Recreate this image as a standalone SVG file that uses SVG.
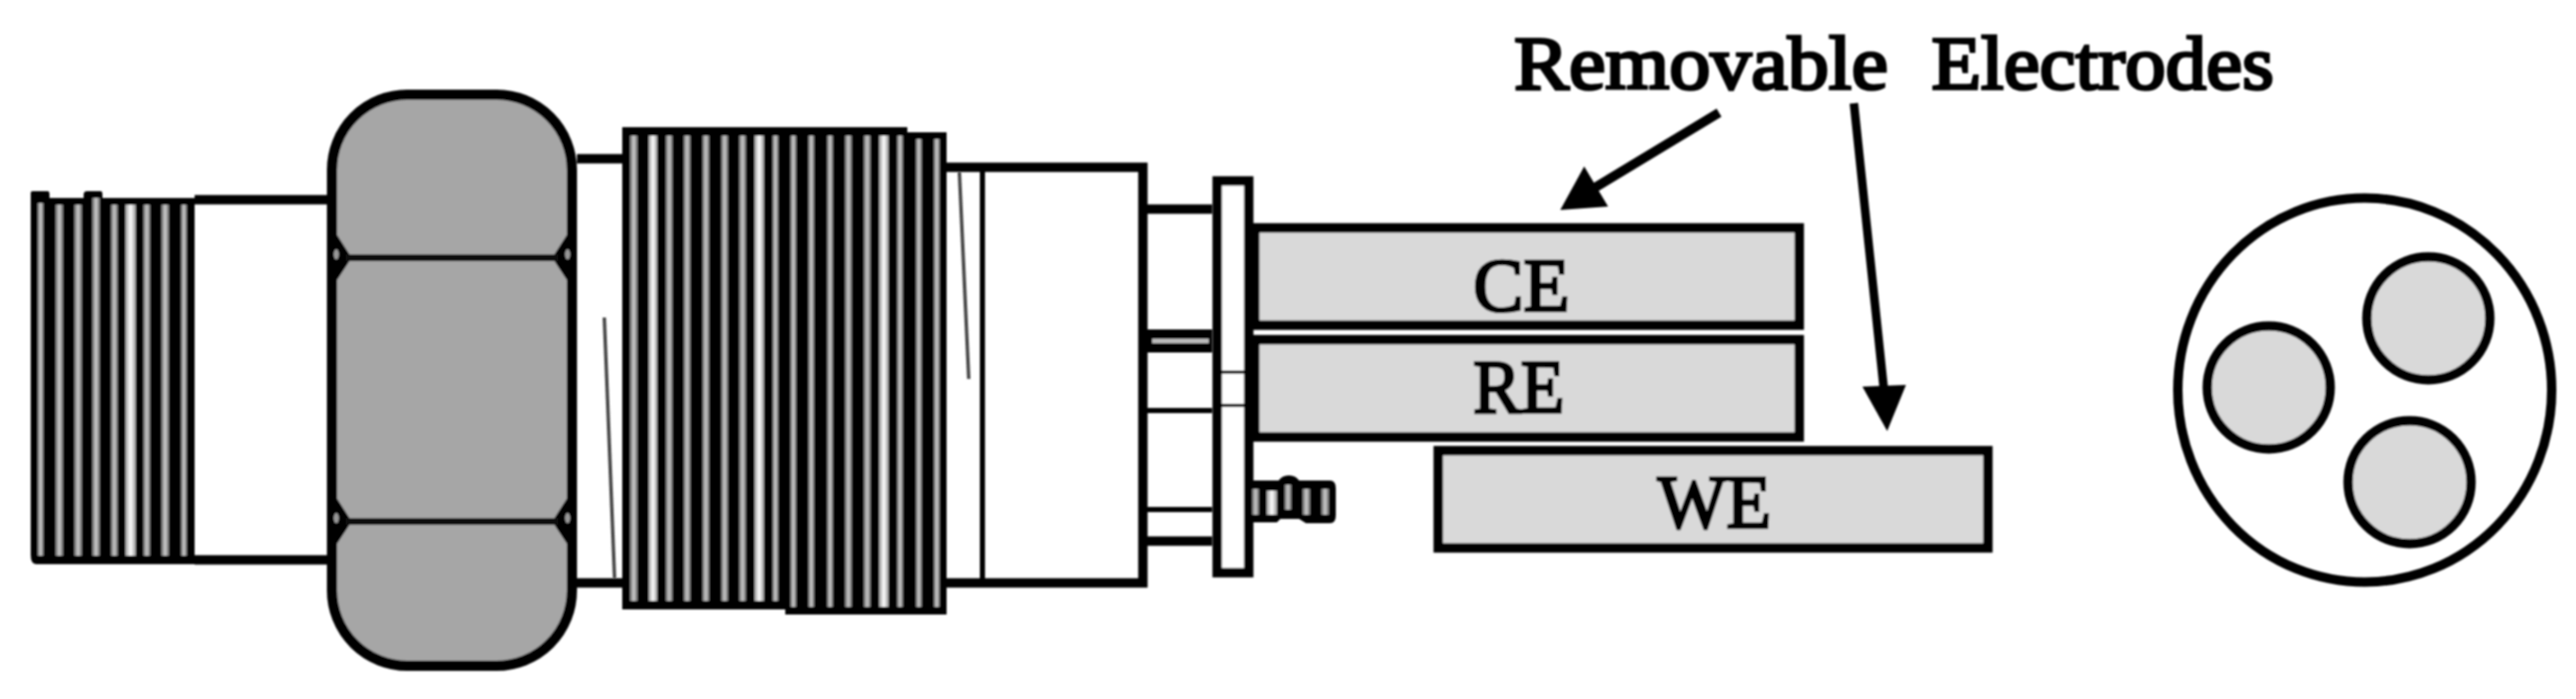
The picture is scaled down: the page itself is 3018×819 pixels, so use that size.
<svg xmlns="http://www.w3.org/2000/svg" width="3018" height="819" viewBox="0 0 3018 819">
<defs>
<linearGradient id="g1" x1="0" x2="1" y1="0" y2="0"><stop offset="0" stop-color="#666"/><stop offset="0.5" stop-color="#ccc"/><stop offset="1" stop-color="#666"/></linearGradient>
<linearGradient id="g2" x1="0" x2="1" y1="0" y2="0"><stop offset="0" stop-color="#999"/><stop offset="0.5" stop-color="#fff"/><stop offset="1" stop-color="#999"/></linearGradient>
<filter id="soft" filterUnits="userSpaceOnUse" x="0" y="0" width="3018" height="819"><feGaussianBlur stdDeviation="1.1"/></filter>
</defs>
<style>
.k{stroke:#000;stroke-width:11;fill:none}
.t{stroke:#000;stroke-width:6;fill:none}
.h{stroke:#444;stroke-width:4;fill:none}
.e{fill:#d9d9d9;stroke:#000;stroke-width:11}
.s1{fill:url(#g1)}
.s2{fill:url(#g2)}
.txt{font-family:"Liberation Serif",serif;font-size:89px;fill:#000;stroke:#000;stroke-width:3.5}
</style>
<rect width="3018" height="819" fill="#fff"/>
<g filter="url(#soft)">
<g id="left-thread">
<path class="k" d="M228 234H383M228 656H383"/>
<path d="M38 224H56Q58 224 58 228V232H98V228Q98 224 102 224H118Q120 224 120 228V232H228V661H42Q36 661 36 650V226Q36 224 38 224Z" fill="#000"/>
<rect class="s1" x="44" y="238" width="7" height="413"/>
<rect class="s1" x="65" y="240" width="9" height="411"/>
<rect class="s1" x="87" y="240" width="9" height="411"/>
<rect class="s1" x="108" y="232" width="9" height="419"/>
<rect class="s1" x="130" y="240" width="8" height="411"/>
<rect class="s2" x="147" y="240" width="12" height="411"/>
<rect class="s1" x="168" y="240" width="8" height="411"/>
<rect class="s1" x="189" y="240" width="9" height="411"/>
<rect class="s1" x="212" y="240" width="7" height="411"/>
</g>
<g id="neck-1">
<path class="k" d="M676 186H730M676 683H730"/>
<path class="h" d="M708 372L720 677"/>
</g>
<g id="nut">
<rect x="389" y="111" width="281" height="669" rx="88" fill="#a6a6a6" stroke="#000" stroke-width="12"/>
<path d="M389 266L412 302L389 337ZM670 266L647 302L670 337ZM389 575L412 611L389 646ZM670 575L647 611L670 646Z" fill="#000"/>
<path d="M405 302H654M405 611H654" stroke="#111" stroke-width="8" fill="none"/>
<ellipse cx="394" cy="298" rx="3" ry="6" fill="#999"/>
<ellipse cx="665" cy="298" rx="3" ry="6" fill="#999"/>
<ellipse cx="394" cy="607" rx="3" ry="6" fill="#999"/>
<ellipse cx="665" cy="607" rx="3" ry="6" fill="#999"/>
</g>
<g id="main-thread">
<path d="M729 149H1063V155H1109V720H920V714H729Z" fill="#000"/>
<rect class="s1" x="738" y="159" width="9" height="545"/>
<rect class="s2" x="760" y="159" width="10" height="545"/>
<rect class="s1" x="780" y="159" width="8" height="545"/>
<rect class="s1" x="801" y="159" width="8" height="545"/>
<rect class="s1" x="823" y="159" width="8" height="545"/>
<rect class="s1" x="845" y="159" width="8" height="545"/>
<rect class="s1" x="866" y="159" width="8" height="545"/>
<rect class="s2" x="884" y="159" width="11" height="545"/>
<rect class="s1" x="905" y="159" width="7" height="545"/>
<rect class="s1" x="926" y="159" width="7" height="552"/>
<rect class="s1" x="947" y="159" width="7" height="552"/>
<rect class="s1" x="969" y="159" width="7" height="552"/>
<rect class="s1" x="990" y="159" width="8" height="552"/>
<rect class="s1" x="1012" y="159" width="8" height="552"/>
<rect class="s2" x="1030" y="159" width="11" height="552"/>
<rect class="s1" x="1051" y="159" width="7" height="552"/>
<rect class="s1" x="1073" y="163" width="7" height="548"/>
<rect class="s1" x="1094" y="163" width="7" height="548"/>
</g>
<g id="rear-body">
<path class="k" d="M1109 196H1339V683H1109"/>
<path d="M1151 196V688" class="t"/>
<path class="h" d="M1124 202L1135 444"/>
</g>
<g id="rear-neck">
<path class="k" d="M1339 245H1420M1339 634H1420"/>
<rect x="1339" y="386" width="81" height="27" fill="#000"/>
<rect x="1350" y="397" width="66" height="5" fill="#bbb"/>
<path class="t" d="M1339 481H1420M1339 597H1420"/>
</g>
<g id="flange">
<rect x="1426" y="212" width="37" height="459" fill="#fff" stroke="#000" stroke-width="11"/>
<path d="M1430 436H1460M1430 475H1460" stroke="#000" stroke-width="4" fill="none"/>
</g>
<g id="screw">
<path d="M1460 563H1498Q1502 557 1510 557Q1518 557 1522 563H1558Q1565 563 1565 572V604Q1565 613 1558 613H1530L1522 608H1500L1496 612H1460Z" fill="#000"/>
<rect class="s1" x="1467" y="573" width="8" height="30"/>
<rect class="s2" x="1484" y="575" width="12" height="28"/>
<rect class="s1" x="1505" y="568" width="8" height="29"/>
<rect class="s1" x="1526" y="573" width="9" height="30"/>
<rect class="s1" x="1548" y="573" width="9" height="30"/>
</g>
<g id="electrode-ce">
<rect class="e" x="1470" y="267" width="638" height="114"/>
<text class="txt" x="1726" y="364" textLength="113" lengthAdjust="spacingAndGlyphs">CE</text>
</g>
<g id="electrode-re">
<rect class="e" x="1470" y="398" width="638" height="114"/>
<text class="txt" x="1726" y="483" textLength="107" lengthAdjust="spacingAndGlyphs">RE</text>
</g>
<g id="electrode-we">
<rect class="e" x="1685" y="528" width="644" height="114"/>
<text class="txt" x="1942" y="618" textLength="133" lengthAdjust="spacingAndGlyphs">WE</text>
</g>
<g id="end-view">
<ellipse class="k" cx="2770.5" cy="457" rx="219" ry="225" fill="#fff"/>
<circle class="e" cx="2658" cy="454" r="72"/>
<circle class="e" cx="2845" cy="373" r="72"/>
<circle class="e" cx="2823" cy="565" r="72"/>
</g>
<g id="label">
<text class="txt" x="1774" y="104" textLength="438" lengthAdjust="spacingAndGlyphs">Removable</text>
<text class="txt" x="2263" y="104" textLength="401" lengthAdjust="spacingAndGlyphs">Electrodes</text>
</g>
<g id="connectors">
<path d="M2014 132L1865 222" stroke="#000" stroke-width="11" fill="none"/>
<path d="M1828 246L1856 195L1884 242Z" fill="#000"/>
<path d="M2172 121L2207 455" stroke="#000" stroke-width="10" fill="none"/>
<path d="M2211 505L2182 453L2233 451Z" fill="#000"/>
</g>
</g>
</svg>
